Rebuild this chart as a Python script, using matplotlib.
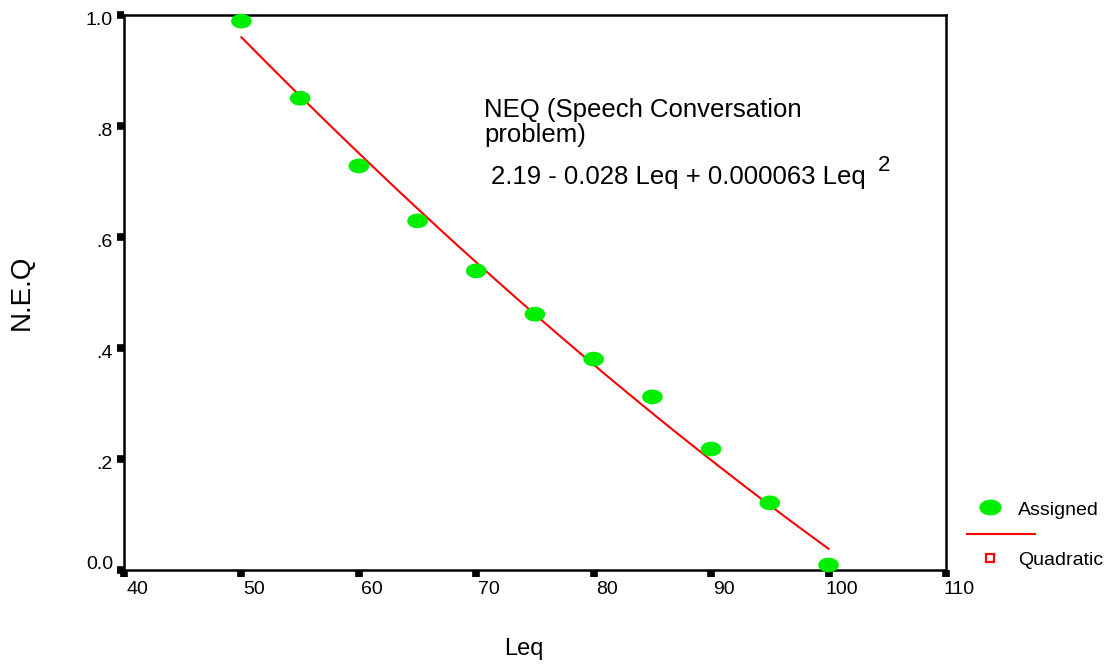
import numpy as np
import matplotlib
matplotlib.use("Agg")
import matplotlib.pyplot as plt
from matplotlib.path import Path
from matplotlib.lines import Line2D
from matplotlib.transforms import ScaledTranslation

plt.rcParams['font.family'] = ['Liberation Sans', 'DejaVu Sans']

# data
leq = [50, 55, 60, 65, 70, 75, 80, 85, 90, 95, 100]
neq = [0.989, 0.850, 0.728, 0.629, 0.539, 0.461, 0.380, 0.312, 0.218, 0.121, 0.009]
xticks = [40, 50, 60, 70, 80, 90, 100, 110]
yticks = [0.0, 0.2, 0.4, 0.6, 0.8, 1.0]
ytick_labels = ['0.0', '.2', '.4', '.6', '.8', '1.0']

# quadratic fit of the points
coef = np.polyfit(leq, neq, 2)
xf = np.linspace(min(leq), max(leq), 200)
yf = np.polyval(coef, xf)

# flat ellipse marker
t = np.linspace(0, 2 * np.pi, 60)
ell = Path(np.column_stack([1.4 * np.cos(t), np.sin(t)]), closed=True)

fig = plt.figure(figsize=(11.1, 6.67), dpi=100)
ax = fig.add_axes([0.1117, 0.1454, 0.7405, 0.8321])

ax.plot(xf, yf, color='red', lw=1.5, zorder=2)
ax.scatter(leq, neq, marker=ell, s=220, color='#00ee00', edgecolors='none',
           zorder=3, clip_on=False)

ax.set_xlim(40, 110)
ax.set_ylim(0, 1.0)
ax.set_xticks(xticks)
ax.set_yticks(yticks)
ax.set_yticklabels(ytick_labels)
ax.tick_params(direction='out', length=5, width=5.5, labelsize=14, pad=3)
for s in ax.spines.values():
    s.set_linewidth(1.8)

off = ScaledTranslation(0.13, 0, fig.dpi_scale_trans)
for lab in ax.get_xticklabels():
    lab.set_transform(lab.get_transform() + off)
down = ScaledTranslation(0, -0.03, fig.dpi_scale_trans)
for lab in ax.get_yticklabels()[1:]:
    lab.set_transform(lab.get_transform() + down)
up = ScaledTranslation(0, 0.08, fig.dpi_scale_trans)
ax.get_yticklabels()[0].set_transform(ax.get_yticklabels()[0].get_transform() + up)

ax.set_xlabel('Leq', fontsize=17)
ax.xaxis.set_label_coords(0.486, -0.122)
ax.set_ylabel('N.E.Q', fontsize=20, labelpad=37)

ax.text(0.438, 0.816, 'NEQ (Speech Conversation', transform=ax.transAxes,
        fontsize=18.5, va='baseline', ha='left')
ax.text(0.438, 0.771, 'problem)', transform=ax.transAxes,
        fontsize=18.5, va='baseline', ha='left')
ax.text(0.446, 0.6955, '2.19 - 0.028 Leq + 0.000063 Leq', transform=ax.transAxes,
        fontsize=18.5, va='baseline', ha='left')
ax.text(0.917, 0.719, '2', transform=ax.transAxes, fontsize=16, va='baseline')

# legend drawn by hand
fig.add_artist(Line2D([0.892], [0.240], marker=ell, markersize=16, color='#00ee00',
                      markeredgewidth=0, transform=fig.transFigure))
fig.text(0.917, 0.235, 'Assigned', fontsize=14, va='center')
fig.add_artist(Line2D([0.871, 0.932], [0.199, 0.199], color='red', lw=1.5,
                      transform=fig.transFigure))
fig.add_artist(Line2D([0.892], [0.163], marker='s', markersize=6, color='red',
                      markerfacecolor='none', markeredgewidth=1.6,
                      transform=fig.transFigure))
fig.text(0.917, 0.160, 'Quadratic', fontsize=14, va='center')

fig.savefig('out.png', dpi=100)
